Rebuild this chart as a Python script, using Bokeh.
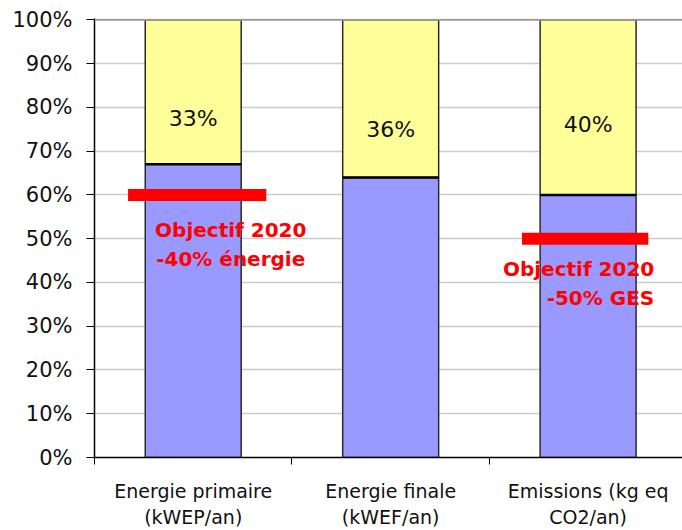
from bokeh.plotting import figure
from bokeh.models import FixedTicker, Range1d, ColumnDataSource, Span
from bokeh.core.properties import value
from bokeh.embed import file_html
from bokeh.resources import INLINE

categories = ["Energie primaire\n(kWEP/an)", "Energie finale\n(kWEF/an)", "Emissions (kg eq\nCO2/an)"]
blue_share = [67, 64, 60]
yellow_share = [33, 36, 40]
yellow_labels = ["33%", "36%", "40%"]
label_y = [77.5, 75, 76]
objectives = [60, 50]
objective_cat = [1, 3]
objective_text = ["Objectif 2020\n-40% énergie", "Objectif 2020\n-50% GES"]
y_ticks = list(range(0, 101, 10))

xs = [i + 1 for i in range(len(categories))]
tops = [b + y for b, y in zip(blue_share, yellow_share)]

p = figure(width=682, height=530, output_backend="svg", toolbar_location=None,
           x_range=Range1d(0.5, 3.478), y_range=Range1d(0, 100.3),
           min_border_left=94, min_border_right=0, min_border_top=18, min_border_bottom=72)
p.outline_line_color = None
p.background_fill_color = "white"

src = ColumnDataSource(dict(x=xs, blue=blue_share, top=tops, lab=yellow_labels, ly=label_y))

p.ygrid.ticker = FixedTicker(ticks=y_ticks[:-1])
p.ygrid.grid_line_color = "#CCCCCC"
p.ygrid.grid_line_width = 1.5
p.add_layout(Span(location=100, dimension="width", line_color="#999999", line_width=2))

p.vbar(x="x", bottom=0, top="blue", width=0.486, source=src,
       fill_color="#9999FF", line_color="#2a2a2a", line_width=1.5)
p.vbar(x="x", bottom="blue", top="top", width=0.486, source=src,
       fill_color="#FFFF99", line_color="#2a2a2a", line_width=1.5)
p.segment(x0=[x - 0.243 for x in xs], x1=[x + 0.243 for x in xs], y0=blue_share, y1=blue_share,
          line_color="black", line_width=2.5)

p.text(x="x", y="ly", text="lab", source=src, text_align="center", text_baseline="middle",
       text_font=value("DejaVu Sans"), text_font_size="22px", text_color="#111111")

# objective markers
p.segment(x0=[objective_cat[0] - 0.33, objective_cat[1] - 0.335],
          x1=[objective_cat[0] + 0.37, objective_cat[1] + 0.305],
          y0=objectives, y1=objectives, line_color="#FF0000", line_width=12)
p.text(x=[objective_cat[0] + 0.19], y=[objectives[0] - 5.3], text=[objective_text[0]],
       text_align="center", text_baseline="top",
       text_font=value("DejaVu Sans"), text_font_style="bold", text_font_size="20px",
       text_color="#FF0000", text_line_height=1.22)
p.text(x=[objective_cat[1] + 0.335], y=[objectives[1] - 4.1], text=[objective_text[1]],
       text_align="right", text_baseline="top",
       text_font=value("DejaVu Sans"), text_font_style="bold", text_font_size="20px",
       text_color="#FF0000", text_line_height=1.22)

# axes
p.yaxis.ticker = FixedTicker(ticks=y_ticks)
p.yaxis.major_label_overrides = {t: f"{t}%" for t in y_ticks}
p.yaxis.major_label_text_font = "DejaVu Sans"
p.yaxis.major_label_text_font_size = "21px"
p.yaxis.major_label_text_color = "#111111"
p.yaxis.major_tick_in = 0
p.yaxis.major_tick_out = 8
p.yaxis.major_tick_line_color = "black"
p.yaxis.minor_tick_line_color = None
p.yaxis.axis_line_color = "black"
p.yaxis.axis_line_width = 1.5
p.yaxis.major_label_standoff = 14

p.xaxis.ticker = FixedTicker(ticks=xs, minor_ticks=[0.5, 1.5, 2.5, 3.5])
p.xaxis.major_label_overrides = {x: c for x, c in zip(xs, categories)}
p.xaxis.major_label_text_font = "DejaVu Sans"
p.xaxis.major_label_text_font_size = "19px"
p.xaxis.major_label_text_color = "#111111"
p.xaxis.major_tick_line_color = None
p.xaxis.minor_tick_in = 0
p.xaxis.minor_tick_out = 7
p.xaxis.minor_tick_line_color = "black"
p.xaxis.axis_line_color = "black"
p.xaxis.axis_line_width = 1.5
p.xaxis.major_label_standoff = 15

p.xgrid.grid_line_color = None

open("out.html", "w").write(file_html(p, INLINE))
